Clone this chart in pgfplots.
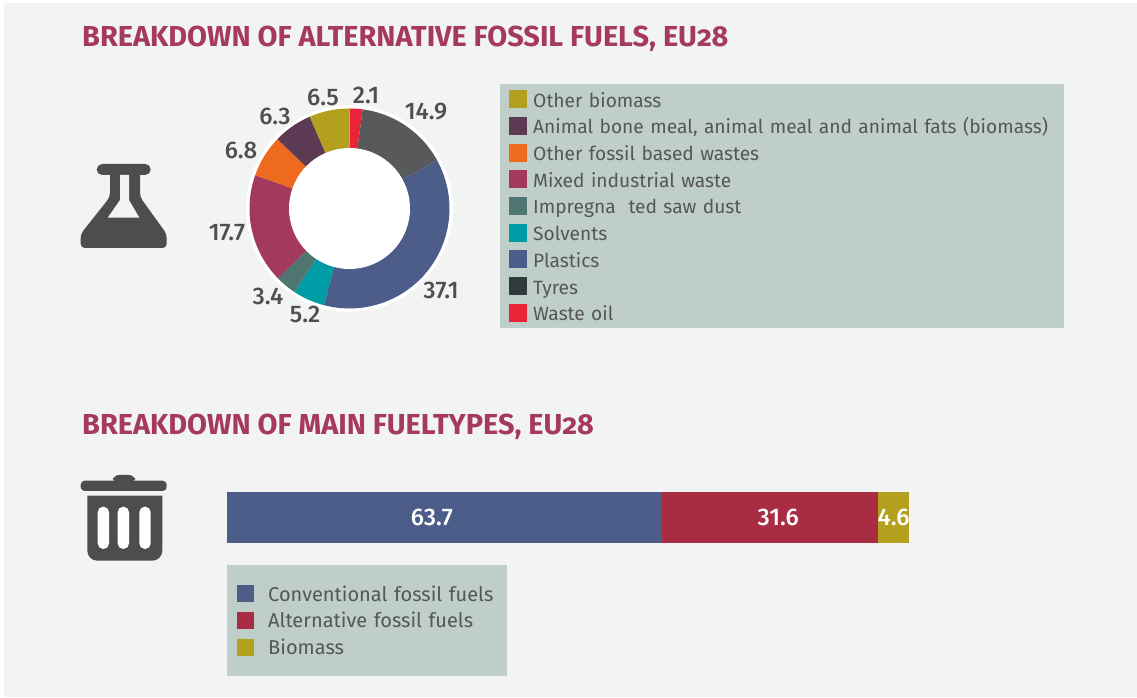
\documentclass[border=0pt]{standalone}
\usepackage{fontspec}
\setmainfont{Fira Sans}
\newfontfamily\titlefont[Numbers=OldStyle]{Fira Sans}
\newfontfamily\lblface{Fira Sans Medium}
\usepackage{pgfplots}
\pgfplotsset{compat=1.18}
\definecolor{bgc}{HTML}{F2F4F3}
\definecolor{legbg}{HTML}{BFCEC9}
\definecolor{txt}{HTML}{555655}
\definecolor{lbl}{HTML}{4F4F4F}
\definecolor{ttl}{HTML}{A63A5E}
\definecolor{icon}{HTML}{4D4D4B}
\definecolor{cBio}{HTML}{B3A01F}
\definecolor{cAni}{HTML}{5C3A54}
\definecolor{cOrg}{HTML}{EE6A1F}
\definecolor{cMix}{HTML}{A33A5E}
\definecolor{cImp}{HTML}{4E7570}
\definecolor{cSol}{HTML}{009CA6}
\definecolor{cPla}{HTML}{4C5D8A}
\definecolor{cTyr}{HTML}{2F3B3D}
\definecolor{cOil}{HTML}{EA2338}
\definecolor{cGry}{HTML}{58595B}
\definecolor{cRed}{HTML}{A82C42}
\newcommand\lblfont{\fontsize{24}{28}\lblface}
\def\cum{0}
\newcommand\slice[2]{%
  \pgfmathsetmacro\cumnext{\cum+#1}%
  \def\pts{(0,0)}%
  \pgfplotsforeachungrouped \k in {0,...,30}{%
    \pgfmathsetmacro\ang{90-3.6*(\cum+#1*\k/30)}%
    \xdef\pts{\pts (\ang,100)}}%
  \edef\tmp{\noexpand\addplot[fill=#2,draw=none,data cs=polar,forget plot] coordinates {\pts (0,0)};}\tmp
  \global\let\cum\cumnext}
\newcommand\disc[2]{%
  \def\pts{}%
  \pgfplotsforeachungrouped \k in {0,...,72}{%
    \pgfmathsetmacro\ang{5*\k}%
    \xdef\pts{\pts (\ang,#1)}}%
  \edef\tmp{\noexpand\addplot[fill=#2,draw=none,data cs=polar,forget plot] coordinates {\pts};}\tmp}
\begin{document}
\begin{tikzpicture}[x=1pt,y=1pt]
\useasboundingbox (0,0) rectangle (1137,698);
\fill[white] (0,0) rectangle (1137,698);
\fill[bgc] (4,0.5) rectangle (1137,695);
\begin{scope}[y=-1pt,yshift=698pt]
\node[anchor=base west,inner sep=0pt,text=ttl,font=\fontsize{28.9}{32}\titlefont\bfseries] at (82,46.5) {BREAKDOWN OF ALTERNATIVE FOSSIL FUELS, EU28};
\node[anchor=base west,inner sep=0pt,text=ttl,font=\fontsize{28.9}{32}\titlefont\bfseries] at (82,434.5) {BREAKDOWN OF MAIN FUELTYPES, EU28};
% flask
\fill[icon,rounded corners=5.5pt] (96.7,164) rectangle (150.7,175);
\fill[icon,rounded corners=4pt]
 (140,170) -- (140,197) -- (166.7,234) -- (166.7,248) -- (80.7,248) -- (80.7,234) -- (110,197) -- (110,170) -- cycle;
\fill[bgc] (120,175) -- (129,175) -- (129,200) -- (139.3,217.7) -- (107.7,217.7) -- (120,200) -- cycle;
% bin
\fill[icon,rounded corners=6pt] (113,483) -- (113,475) -- (135,475) -- (135,483) -- cycle;
\fill[icon,rounded corners=4pt] (80.7,480.7) rectangle (166.7,491);
\fill[icon] (87.3,495.7) -- (162.3,495.7) [rounded corners=10pt] -- (162.3,560.7) -- (87.3,560.7) [sharp corners] -- (87.3,495.7) -- cycle;
\fill[white,rounded corners=5.5pt] (97.7,506.7) rectangle (109,549);
\fill[white,rounded corners=5.5pt] (117.7,506.7) rectangle (129,549);
\fill[white,rounded corners=5.5pt] (139.3,506.7) rectangle (150.7,549);
\end{scope}

% donut
\begin{axis}[
  at={(244.5pt,384.5pt)},anchor=south west,
  hide axis,scale only axis,width=210pt,height=210pt,
  xmin=-105,xmax=105,ymin=-105,ymax=105,clip=false,
  legend image code/.code={\fill[#1,draw=none] (0pt,-1pt) rectangle (18pt,17pt);},
  legend style={at={(1.2167,1.0929)},anchor=north west,fill=legbg,draw=none,
    inner xsep=9pt,inner ysep=6pt,row sep=8.2pt,column sep=6pt,
    font=\fontsize{19.2}{24}\selectfont,text=txt,
    nodes={inner sep=0pt,text width=521.5pt,align=left,anchor=base west}},
  ]
\disc{103.5}{white}
\slice{2.1}{cOil}
\slice{14.9}{cGry}
\slice{37.1}{cPla}
\slice{0}{cTyr}
\slice{5.2}{cSol}
\slice{3.4}{cImp}
\slice{17.7}{cMix}
\slice{6.8}{cOrg}
\slice{6.3}{cAni}
\slice{6.5}{cBio}
\disc{60.5}{white}
\addlegendimage{fill=cBio}\addlegendentry{Other biomass}
\addlegendimage{fill=cAni}\addlegendentry{Animal bone meal, animal meal and animal fats (biomass)}
\addlegendimage{fill=cOrg}\addlegendentry{Other fossil based wastes}
\addlegendimage{fill=cMix}\addlegendentry{Mixed industrial waste}
\addlegendimage{fill=cImp}\addlegendentry{Impregna\ \ ted saw dust}
\addlegendimage{fill=cSol}\addlegendentry{Solvents}
\addlegendimage{fill=cPla}\addlegendentry{Plastics}
\addlegendimage{fill=cTyr}\addlegendentry{Tyres}
\addlegendimage{fill=cOil}\addlegendentry{Waste oil}
\begin{scope}[every node/.style={font=\lblfont,text=lbl,inner sep=0pt}]
\node at (axis cs:16.5,113.5) {2.1};
\node at (axis cs:76.5,96.5) {14.9};
\node at (axis cs:91.5,-81.5) {37.1};
\node at (axis cs:-44.5,-105.5) {5.2};
\node at (axis cs:-81.5,-87.5) {3.4};
\node at (axis cs:-122.5,-24.5) {17.7};
\node at (axis cs:-108.5,58.5) {6.8};
\node at (axis cs:-74.5,92.5) {6.3};
\node at (axis cs:-26.5,111.5) {6.5};
\end{scope}
\end{axis}

% bar
\begin{axis}[
  at={(227pt,155pt)},anchor=south west,
  scale only axis,width=683pt,height=51pt,hide axis,
  xbar,stack plots=x,bar shift=0pt,bar width=51pt,
  xmin=0,xmax=100,ymin=-1,ymax=1,clip=false,
  legend image code/.code={\fill[#1,draw=none] (0pt,-1pt) rectangle (17pt,16pt);},
  legend style={at={(0,-0.431)},anchor=north west,fill=legbg,draw=none,
    inner xsep=9.5pt,inner ysep=20pt,row sep=9.2pt,column sep=14.5pt,
    font=\fontsize{20}{24}\selectfont,text=txt,
    nodes={inner sep=0pt,text width=229pt,align=left,anchor=base west}},
  ]
\addplot[fill=cPla,draw=none] coordinates {(63.7,0)};
\addlegendentry{Conventional fossil fuels}
\addplot[fill=cRed,draw=none] coordinates {(31.6,0)};
\addlegendentry{Alternative fossil fuels}
\addplot[fill=cBio,draw=none] coordinates {(4.6,0)};
\addlegendentry{Biomass}
\end{axis}
% bar labels, above the bars
\begin{axis}[
  at={(227pt,155pt)},anchor=south west,
  scale only axis,width=683pt,height=51pt,hide axis,
  xmin=0,xmax=100,ymin=-1,ymax=1,clip=false,
  ]
\node[font=\fontsize{24}{28}\lblface,text=white,inner sep=0pt] at (axis cs:30.0,0) {63.7};
\node[font=\fontsize{24}{28}\lblface,text=white,inner sep=0pt] at (axis cs:80.7,0) {31.6};
\node[font=\fontsize{24}{28}\lblface,text=white,inner sep=0pt] at (axis cs:97.6,0) {4.6};
\end{axis}
\end{tikzpicture}
\end{document}
